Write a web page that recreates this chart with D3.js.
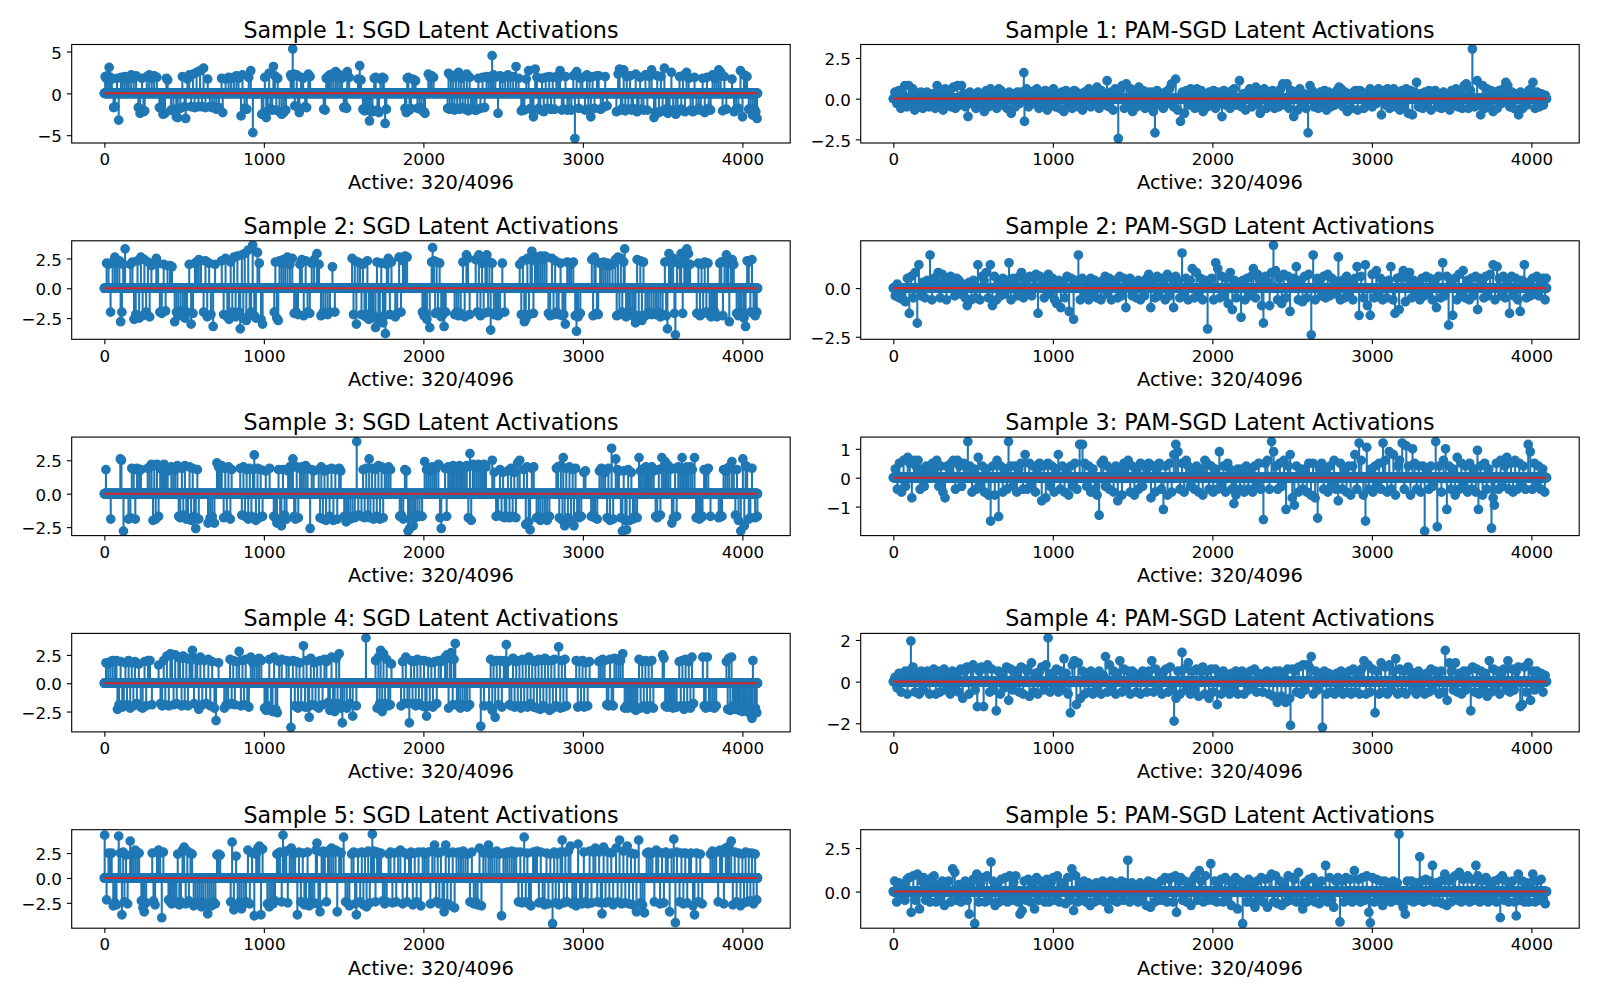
<!DOCTYPE html>
<html><head><meta charset="utf-8">
<script src="https://cdn.jsdelivr.net/npm/d3@7/dist/d3.min.js"></script>
<style>body{margin:0;background:#fff}svg{display:block;font-family:"DejaVu Sans",sans-serif}</style>
</head><body><svg id="c" width="1600" height="1000"></svg>
<script>
// ---- DATA: sparse latent vectors (flat pairs: index, value, index, value, ...) ----
const latentSize = 4096;
const activeLabel = "Active: 320/4096";
const titles = [
  "Sample 1: SGD Latent Activations","Sample 1: PAM-SGD Latent Activations",
  "Sample 2: SGD Latent Activations","Sample 2: PAM-SGD Latent Activations",
  "Sample 3: SGD Latent Activations","Sample 3: PAM-SGD Latent Activations",
  "Sample 4: SGD Latent Activations","Sample 4: PAM-SGD Latent Activations",
  "Sample 5: SGD Latent Activations","Sample 5: PAM-SGD Latent Activations"];
const xTicks = [0,1000,2000,3000,4000];
const yTicksS1Sgd=[-5,0,5], yTicksS1Pam=[-2.5,0,2.5];
const yTicksS2Sgd=[-2.5,0,2.5], yTicksS2Pam=[-2.5,0];
const yTicksS3Sgd=[-2.5,0,2.5], yTicksS3Pam=[-1,0,1];
const yTicksS4Sgd=[-2.5,0,2.5], yTicksS4Pam=[-2,0,2];
const yTicksS5Sgd=[-2.5,0,2.5], yTicksS5Pam=[0,2.5];

const s1Sgd=[5,2.0,12,1.8,20,2.1,30,3.1,38,1.9,47,1.7,58,-1.7,66,-1.6,79,1.8,90,-3.2,104,1.9,115,1.8,128,2.0,141,1.7,153,1.9,168,2.2,184,1.8,199,2.1,213,-1.7,224,-2.4,236,1.8,245,-2.2,253,-2.1,266,2.0,281,2.2,297,1.8,312,2.1,329,1.9,345,-1.7,355,-1.8,368,-2.5,380,-2.4,389,1.8,397,1.6,
418,-2.0,433,-1.9,451,-2.8,460,-2.9,476,-1.8,489,2.0,503,-1.6,510,-3.0,521,1.7,532,2.2,544,-1.6,556,2.3,566,-1.7,578,2.5,590,-1.6,600,2.7,612,-1.6,622,3.0,634,-1.7,648,1.7,661,-1.6,676,-1.7,690,-1.6,703,-1.9,718,-1.7,735,1.8,742,-2.3,760,1.7,779,1.9,795,1.8,
812,1.9,828,2.1,841,1.8,857,-2.7,866,2.2,879,-1.8,893,-1.9,905,1.9,918,2.7,931,-4.7,987,-2.5,997,-2.4,1006,1.9,1015,-2.9,1024,-2.1,1033,2.4,1041,-1.8,1052,-2.0,1060,3.2,1069,2.1,1078,-2.0,1087,1.8,1098,-2.2,1112,-2.5,1125,-2.3,1138,-2.0,1168,2.2,1175,1.9,1181,5.3,1187,2.3,1194,-1.5,
1206,2.2,1214,-1.7,1222,-2.3,1233,1.9,1246,1.8,1259,-1.6,1268,-1.7,1279,2.3,1290,2.0,1375,-1.9,1384,-2.0,1391,1.8,1402,2.0,1413,2.2,1424,1.9,1437,2.4,1451,2.6,1463,2.0,1476,2.2,1489,1.8,1501,-1.7,1510,-1.6,1519,-1.8,1523,2.6,1535,1.9,1590,1.7,
1601,3.3,1609,1.6,1621,-1.9,1631,-2.1,1640,-1.8,1652,-2.0,1662,-3.3,1670,-1.9,1681,-2.2,1692,1.8,1701,1.9,1712,-2.0,1722,-2.3,1731,1.7,1743,1.9,1752,1.8,1760,-3.6,1768,-1.9,1885,-1.8,1893,-2.3,1899,1.8,1906,1.9,1913,-2.0,1922,-1.8,1931,1.7,1942,1.6,1951,1.5,1963,-1.8,1976,-1.7,1989,-2.0,
2004,-2.2,2010,-2.4,2031,2.3,2043,1.9,2052,2.1,2064,1.9,2152,-1.8,2158,2.4,2165,-1.9,2172,2.1,2180,-1.7,2187,1.9,2195,-2.0,2204,2.2,2212,-1.8,2221,2.5,2229,-1.9,2237,1.8,2246,-1.7,2254,2.0,2263,-1.9,2272,2.3,2281,-2.1,2290,1.9,2299,-1.8,2310,-1.9,2322,-2.0,2333,-2.0,2345,1.8,2358,-1.8,2371,1.9,2384,-1.7,2396,2.0,
2409,1.8,2421,2.0,2431,4.5,2440,2.2,2451,1.9,2468,-2.4,2480,2.1,2496,1.8,2513,2.0,2530,2.2,2546,1.9,2563,2.0,2581,3.2,2597,1.8,2614,-2.1,2624,-1.9,2633,-2.0,2645,1.7,2660,2.7,2671,-1.8,2681,-2.0,2690,-2.8,2701,2.9,2712,1.9,2722,-1.8,2733,-2.0,2744,1.8,2755,-2.2,2767,1.9,2778,-1.8,2789,2.0,
2800,-1.9,2811,1.9,2822,-1.9,2834,2.0,2845,1.8,2857,2.7,2868,-2.0,2879,-1.9,2891,2.0,2903,-2.0,2915,-1.9,2928,-2.0,2940,2.1,2950,-5.4,2961,2.6,2974,-1.8,2985,1.8,2997,1.9,3013,-2.0,3026,2.2,3034,-1.9,3042,1.9,3050,-2.8,3061,2.0,3073,-1.8,3088,2.1,3099,2.1,3112,-1.9,3126,-1.7,3140,2.0,3152,-1.5,
3210,-2.2,3221,2.3,3230,2.9,3238,-2.0,3247,-1.8,3256,2.8,3266,-2.1,3275,2.0,3285,-1.9,3296,2.1,3305,-2.0,3314,-1.8,3331,2.3,3340,-2.2,3349,-2.0,3359,1.9,3368,-1.9,3380,-2.0,3392,2.2,3404,-2.0,3417,2.0,3431,2.8,3446,-2.9,3455,-2.2,3466,2.1,3477,-2.3,3489,2.0,3500,-2.1,3511,3.0,3522,-1.9,3533,-2.4,3544,-2.0,3555,2.5,3566,-2.0,3582,-2.5,3594,-2.2,
3606,2.0,3617,-1.9,3628,2.1,3640,-2.2,3650,2.5,3663,1.8,3675,-2.0,3689,-2.2,3700,1.9,3712,-2.0,3726,-1.8,3739,-2.0,3751,1.8,3764,-2.3,3778,1.9,3789,-1.8,3801,-2.0,3813,2.2,3826,1.8,3839,2.3,3852,2.8,3864,2.5,3876,-2.1,3887,2.0,3899,-1.9,3935,1.7,3948,-2.2,3961,-1.9,3975,-1.8,3988,2.7,4001,-2.8,4010,2.2,4020,2.1,4029,2.0,4040,-1.9,4052,-2.0,4064,-2.6,4075,-1.9,4084,-2.2,4092,-3.0];

const s1Pam=[10,0.4,22,-0.3,35,0.5,47,-0.6,60,0.3,72,0.8,85,-0.5,97,0.8,110,-0.4,122,0.6,134,-0.7,147,0.2,160,-0.5,172,0.4,185,-0.6,198,0.3,210,0.4,223,-0.5,236,-0.2,249,0.3,262,-0.6,274,0.8,287,-0.4,300,0.5,312,-0.7,325,0.6,338,-0.3,350,0.4,363,-0.5,376,0.7,389,-0.6,
402,0.8,414,-0.4,427,0.8,440,0.3,452,-0.5,468,-1.1,480,0.4,493,-0.3,505,0.2,518,-0.6,531,0.4,544,-0.4,557,0.3,570,-0.8,583,0.5,596,-0.5,609,0.6,622,-0.3,635,0.4,648,-0.6,661,0.6,674,0.5,687,-0.4,700,0.3,713,-0.6,726,0.4,739,-0.9,752,0.3,765,-0.5,778,0.4,791,-0.3,
804,0.4,818,1.6,822,-1.4,835,0.6,848,-0.5,861,0.4,874,-0.3,887,0.5,900,0.6,913,-0.6,926,0.3,939,-0.4,952,0.5,965,-0.7,978,0.4,991,-0.3,1004,0.6,1017,-0.5,1030,0.3,1043,-0.6,1056,0.4,1069,-0.8,1082,0.5,1095,-0.4,1108,0.3,1121,-0.6,1134,0.5,1147,0.4,1160,-0.5,1173,0.3,1186,-0.7,1199,0.4,
1212,-0.4,1225,0.6,1238,-0.5,1251,0.4,1264,-0.3,1277,0.7,1290,-0.6,1303,0.5,1316,0.3,1329,-0.4,1340,1.1,1352,-0.5,1365,0.4,1378,-0.7,1391,0.6,1410,-2.45,1422,0.5,1435,0.8,1448,-0.6,1461,0.9,1474,-0.4,1487,0.6,1500,-0.8,1513,0.4,1526,-0.5,1539,0.7,1552,-0.3,1565,0.5,1578,-0.6,1591,0.4,
1604,-0.5,1617,0.4,1630,-0.8,1640,-2.1,1653,0.5,1666,-0.4,1679,0.3,1692,-0.6,1705,0.4,1718,-0.3,1731,0.6,1744,0.9,1757,-0.5,1770,1.2,1783,-0.7,1800,-1.4,1812,0.4,1825,-0.9,1838,0.5,1851,-0.4,1864,0.6,1877,0.3,1890,-0.6,1903,0.6,1916,-0.4,1929,0.5,1942,-0.8,1955,0.3,1968,-0.5,1981,0.4,1994,-0.3,
2007,0.5,2020,-0.6,2033,0.4,2046,-0.3,2060,-1.1,2072,0.5,2085,-0.4,2098,0.3,2111,-0.6,2124,0.5,2137,0.6,2150,-0.4,2170,1.1,2182,-0.5,2195,0.3,2208,-0.7,2221,0.4,2234,0.6,2247,-0.5,2260,0.3,2273,0.7,2286,-0.4,2300,-0.9,2312,0.5,2325,0.6,2338,-0.6,2351,0.4,2364,-0.3,2377,0.5,2390,-0.6,
2403,0.4,2416,-0.5,2429,0.6,2442,0.9,2455,-0.4,2468,0.9,2481,-0.6,2494,0.5,2510,-1.1,2522,0.4,2535,-0.7,2548,0.6,2561,-0.4,2574,0.3,2587,-0.6,2600,-2.1,2612,0.8,2625,0.5,2638,-0.5,2651,0.3,2664,-0.6,2677,0.4,2690,-0.3,2703,0.5,2716,-0.7,2729,0.4,2742,-0.5,2755,0.3,2768,-0.4,2781,0.5,2794,0.7,
2807,0.6,2820,-0.5,2833,0.4,2846,-0.8,2859,0.3,2872,-0.6,2885,0.4,2898,0.5,2911,-0.7,2924,0.5,2937,0.4,2950,-0.6,2963,0.3,2976,-0.4,2989,0.6,3002,-0.5,3015,0.4,3028,-0.3,3041,0.6,3060,-1.0,3072,0.5,3085,-0.4,3098,0.6,3111,-0.6,3124,0.4,3137,0.6,3150,-0.5,3163,0.3,3176,-0.7,3189,0.5,
3202,-0.4,3215,0.6,3228,-0.9,3241,0.5,3254,-1.0,3267,0.4,3280,1.0,3293,-0.5,3306,0.3,3319,-0.6,3332,0.4,3345,-0.3,3358,0.5,3371,-0.7,3384,0.4,3397,0.5,3410,-0.5,3423,0.3,3436,-0.6,3449,0.4,3462,-0.4,3475,0.3,3488,-0.7,3501,0.5,3514,-0.4,3527,0.6,3540,-0.5,3553,0.4,3566,-0.6,3579,0.8,3592,0.9,
3605,-0.6,3618,0.5,3630,3.05,3643,-0.5,3660,1.1,3672,-0.4,3682,-1.0,3695,0.8,3708,-0.6,3721,0.6,3734,-0.5,3747,0.5,3760,-0.8,3773,0.4,3786,-0.6,3799,0.5,3812,-0.3,3825,0.6,3840,1.0,3852,0.8,3865,-0.5,3878,0.4,3891,-0.6,3904,0.3,3920,-1.0,3932,0.4,3945,-0.6,3958,0.3,3971,-0.4,3984,0.5,3997,0.6,4010,1.0,4023,-0.6,4036,0.4,4049,-0.5,4062,0.3,4075,-0.4,4088,0.2];

const s2Sgd=[14,2.1,26,2.0,39,-2.0,52,2.2,66,2.6,80,2.1,94,2.3,102,-2.8,110,-2.0,118,2.0,130,3.3,163,2.0,176,2.2,186,-2.6,197,-2.2,208,2.3,218,-2.5,229,2.6,240,-2.3,251,2.4,262,-2.0,273,2.2,284,-2.4,295,1.9,326,2.5,337,2.1,348,-2.0,360,-2.1,372,2.0,384,-1.9,396,1.9,
412,1.9,424,1.8,441,-2.8,452,-2.0,464,-2.3,478,-1.9,492,-2.1,505,-2.5,518,-2.0,532,2.0,544,-3.0,556,-2.1,568,2.1,580,2.2,592,2.4,606,2.3,622,-2.0,634,2.3,645,-2.4,657,2.1,668,-2.2,682,-3.2,694,2.0,736,2.3,748,-2.2,760,2.5,771,-2.4,782,-2.6,792,2.2,
802,-2.0,812,2.6,823,-2.4,834,2.7,844,-2.0,852,-3.4,862,2.8,871,-2.5,880,2.9,890,-2.7,902,3.2,911,-2.2,920,-2.0,930,3.6,940,-2.3,950,-2.5,960,3.0,971,2.1,982,-2.6,992,-3.0,1065,-2.0,1072,2.2,1081,-2.5,1090,-2.7,1098,2.3,1110,2.1,1122,2.4,1134,2.2,1148,2.6,1163,2.0,1178,2.5,1190,-2.1,
1202,-2.0,1214,-2.2,1226,2.0,1238,2.4,1250,-2.3,1262,2.3,1274,-2.0,1288,-2.1,1300,2.1,1315,2.4,1333,2.9,1346,2.0,1358,-2.3,1372,-2.0,1386,-2.1,1400,-2.2,1414,-2.0,1430,1.8,1445,-2.0,1553,2.5,1562,-2.2,1570,2.3,1580,-3.0,1588,2.2,
1603,2.1,1612,-2.2,1621,2.0,1631,-2.3,1640,-2.4,1649,2.3,1658,-2.6,1668,-2.1,1678,-2.5,1688,-2.3,1700,-3.3,1709,2.2,1718,-2.5,1727,-2.7,1736,2.1,1746,-2.9,1754,-2.3,1762,-3.8,1771,2.0,1780,2.5,1790,-2.2,1800,2.2,1824,-2.4,1836,-2.1,1848,2.6,1860,-2.0,1872,2.3,1885,2.7,1898,2.6,1994,-2.0,
2004,-2.3,2013,-2.1,2022,-2.6,2040,-3.3,2052,2.2,2058,3.4,2066,2.3,2074,-2.1,2083,2.2,2092,-2.0,2102,2.1,2112,-2.4,2122,-2.2,2130,-3.2,2140,-2.0,2196,-2.2,2208,-2.0,2220,-2.3,2234,-2.1,2248,2.2,2259,-2.4,2270,2.8,2280,2.5,2290,-2.2,2328,2.4,2338,-2.0,2348,2.8,2358,-2.3,2368,2.1,2378,-2.1,2389,2.2,2398,2.8,
2406,-2.0,2414,2.2,2422,-3.5,2431,2.1,2442,-2.2,2455,-2.0,2468,-2.3,2481,-2.1,2495,2.1,2510,-2.0,2604,2.0,2614,-2.2,2624,2.3,2633,-2.8,2642,-2.6,2652,2.5,2662,-2.2,2672,2.4,2680,3.1,2690,-2.1,2700,2.3,2712,2.6,2724,2.5,2736,2.7,2748,2.4,2760,2.7,2772,2.6,2784,-2.1,2795,-2.3,
2806,2.5,2816,-2.2,2826,2.3,2836,-2.0,2848,-2.2,2860,2.1,2872,-2.3,2880,-2.2,2890,-3.0,2902,2.2,2914,2.1,2926,2.0,2940,2.2,2952,-2.3,2960,-3.6,2970,-2.4,2984,-2.1,3056,2.4,3064,-2.3,3072,2.6,3080,2.3,3088,-2.1,3096,-2.2,3108,2.1,3118,2.0,3130,2.2,3142,1.9,3155,2.1,3168,1.9,3186,2.0,
3204,2.4,3212,-2.3,3220,2.6,3229,-2.2,3238,2.5,3247,-2.0,3256,2.2,3262,3.3,3271,-2.4,3280,-2.1,3290,-2.2,3300,-2.0,3312,-2.1,3322,-2.4,3330,-2.9,3340,2.4,3350,-2.3,3360,2.3,3370,-2.7,3380,2.2,3392,-2.3,3404,-2.1,3416,-2.0,3430,-2.2,3444,-2.1,3458,-2.2,3472,-2.0,3486,-2.4,3500,-2.2,3514,2.2,3522,-2.3,3530,-3.4,3540,2.9,3548,2.3,3556,2.1,3566,2.5,3574,-2.1,3580,-3.9,3590,2.2,
3608,2.0,3616,2.9,3626,-2.1,3636,2.7,3644,3.1,3652,3.3,3662,2.9,3672,2.0,3714,-2.1,3724,2.1,3734,-2.3,3744,2.0,3754,-2.1,3764,2.2,3774,-2.0,3784,2.1,3794,-2.2,3804,-2.4,3816,-2.1,3828,-2.0,3840,-2.4,3858,2.1,3868,2.2,3878,-2.3,3888,2.3,3900,2.8,3910,2.1,3918,-2.8,3926,2.2,3936,2.4,3946,2.0,3964,-2.1,3975,-2.3,3986,-2.0,3996,-2.2,4010,-2.5,4020,-3.2,4030,2.3,4040,2.2,4050,-2.0,4060,2.4,4070,-2.1,4080,-2.3,4090,-2.0];

const s2Pam=[12,-0.4,24,0.2,37,-0.5,50,-0.3,62,-0.6,75,-0.7,88,0.5,100,-1.3,112,0.6,125,-0.5,137,0.8,150,-1.8,160,1.2,173,-0.4,186,0.3,199,-0.5,212,0.4,230,1.7,242,-0.6,255,0.5,268,0.3,281,0.8,294,-0.5,307,0.7,320,0.4,333,-0.6,346,0.5,359,0.6,372,0.3,385,-0.4,398,0.5,
411,0.4,424,-0.3,437,0.2,450,-0.5,463,-0.9,476,0.3,489,-0.6,502,0.4,515,-0.5,530,1.2,543,-0.6,556,0.6,569,0.4,582,0.8,595,-0.5,608,1.2,621,-0.9,634,0.6,647,-0.6,660,0.3,673,-0.4,686,0.5,699,-0.3,712,0.4,725,1.3,738,-0.6,751,0.5,764,0.3,777,-0.4,790,0.6,
803,0.8,816,-0.5,829,0.4,842,-0.3,855,0.6,868,-0.4,881,0.5,894,0.7,907,-1.3,920,0.6,933,0.3,946,-0.5,959,0.4,972,0.7,985,-0.3,998,0.5,1011,-0.6,1024,-0.8,1037,0.4,1050,-1.0,1063,0.3,1076,-0.5,1089,0.6,1102,-1.2,1115,0.5,1130,-1.6,1143,0.4,1160,1.7,1172,-0.6,1185,0.5,1198,-0.4,
1211,0.3,1224,-0.6,1237,0.5,1250,-0.4,1263,0.4,1276,-0.5,1289,0.3,1302,-0.6,1315,0.4,1328,0.6,1341,-0.3,1354,0.5,1367,-0.6,1380,0.4,1393,0.3,1406,-0.5,1419,0.6,1432,-0.4,1445,0.5,1458,-1.0,1471,0.3,1484,0.5,1497,-0.4,1510,0.3,1523,-0.5,1536,0.4,1549,-0.6,1562,0.3,1575,-0.4,1588,0.5,
1601,0.7,1614,-1.0,1627,0.4,1640,-0.5,1653,0.6,1666,-0.4,1679,0.5,1692,0.3,1705,-0.6,1718,0.7,1731,-0.4,1744,0.5,1757,-1.0,1770,0.6,1783,0.4,1796,-0.5,1810,1.8,1822,-0.4,1835,0.5,1848,-0.6,1861,0.4,1874,1.0,1887,-0.5,1900,0.8,1913,-0.4,1926,0.5,1939,-0.6,1952,0.4,1970,-2.1,1982,0.3,1995,0.5,
2008,-0.6,2021,1.3,2034,1.0,2047,-0.5,2060,0.6,2073,-0.4,2086,0.5,2099,-0.8,2112,0.8,2125,-1.1,2138,0.4,2151,-0.5,2164,0.3,2180,-1.5,2192,0.4,2205,-0.6,2218,0.5,2231,-0.4,2244,0.6,2257,1.0,2270,-0.5,2283,0.7,2296,0.4,2309,-0.9,2320,-1.8,2333,0.6,2346,0.3,2359,-0.9,2372,0.8,2383,2.2,2396,0.9,
2409,-0.6,2422,0.5,2435,-0.8,2448,0.7,2461,-0.5,2474,0.6,2487,-1.2,2500,0.4,2513,0.5,2526,1.1,2539,-0.6,2552,0.4,2565,-0.7,2578,0.6,2591,-0.5,2604,0.7,2620,-2.4,2632,1.7,2645,-0.6,2658,0.5,2671,0.3,2684,-0.4,2697,0.6,2710,-0.5,2723,0.7,2736,-0.4,2749,0.5,2762,0.4,2775,-0.3,2790,1.6,
2803,-0.6,2816,0.4,2829,-0.5,2842,0.6,2855,-0.4,2868,0.3,2881,-0.6,2894,0.5,2907,1.1,2920,-1.4,2933,0.6,2946,-0.5,2959,1.2,2972,-0.9,2990,-1.4,3002,0.7,3015,-0.5,3028,0.9,3041,-0.4,3054,0.5,3067,-0.6,3080,0.3,3093,-0.5,3106,0.4,3119,1.1,3132,-0.6,3145,-1.3,3158,0.5,3171,-1.1,3184,0.6,3197,0.9,
3210,-0.7,3223,0.5,3236,0.8,3249,-0.5,3262,0.4,3275,-0.4,3288,0.3,3301,-0.6,3314,0.5,3327,-0.4,3340,0.6,3353,-0.3,3366,0.5,3379,-0.6,3392,0.4,3405,-1.0,3418,0.6,3431,-0.5,3444,1.3,3457,-0.4,3470,0.6,3481,-1.9,3494,0.4,3507,-1.4,3520,0.5,3533,-0.6,3546,0.7,3559,-0.4,3572,0.9,3585,-0.5,3598,0.4,
3611,-0.6,3624,0.5,3637,-0.4,3650,0.6,3663,-1.1,3676,0.5,3689,0.3,3702,-0.5,3715,0.6,3728,-0.4,3741,0.7,3760,1.2,3772,-0.6,3785,1.1,3798,0.5,3811,-0.4,3824,0.6,3837,-0.5,3850,0.4,3863,-1.3,3876,0.6,3889,-0.4,3902,0.5,3915,-0.6,3930,-1.2,3943,0.4,3956,1.2,3969,-0.5,3982,0.3,3995,-0.4,4008,0.5,4021,-0.3,4034,0.6,4047,-0.4,4060,0.3,4073,0.5,4086,-0.6,4093,0.5];

const s3Sgd=[10,1.8,40,-1.9,100,2.6,107,2.5,120,-2.8,151,-1.9,163,-1.8,172,1.9,184,1.8,194,-1.9,205,1.9,218,1.7,229,1.8,272,1.9,284,2.0,296,2.2,305,-2.0,313,2.1,322,-1.9,330,2.2,340,-1.7,350,1.9,362,1.8,374,2.2,386,1.9,397,1.7,
420,2.0,432,1.9,444,1.8,458,2.1,466,-1.7,476,-1.8,486,1.9,495,-1.6,505,2.1,514,-1.9,524,-1.8,534,2.0,544,-2.0,554,1.9,563,-1.7,573,-2.6,583,1.8,592,-1.9,650,-2.2,663,-1.8,676,-1.7,690,-2.2,706,2.3,716,2.0,726,1.9,736,2.1,748,-1.8,758,1.9,768,-1.6,778,2.0,790,-1.9,798,1.8,
852,1.9,862,-1.6,872,2.0,882,-1.7,892,1.8,902,-1.9,912,1.9,922,-1.7,932,1.8,940,2.9,950,-2.0,960,1.9,970,-1.8,980,1.8,992,-1.7,1012,1.7,1036,1.9,1062,-1.7,1072,-1.8,1082,-2.2,1092,1.8,1102,-2.0,1110,-2.4,1120,1.8,1130,-1.6,1142,-1.9,1152,1.7,1162,2.0,1172,1.9,1182,2.6,1190,-1.7,1198,-1.9,
1206,2.0,1216,-1.8,1226,1.9,1238,2.0,1250,1.8,1262,2.1,1274,1.9,1290,-2.6,1300,1.8,1312,1.7,1344,1.8,1352,-1.8,1360,2.0,1370,-1.9,1380,1.7,1390,-2.0,1400,1.8,1412,-1.7,1424,1.9,1436,-2.0,1448,1.8,1460,-1.9,1472,1.9,1482,1.7,1504,-1.7,1516,-2.1,1528,-1.8,1542,-1.9,1556,-1.7,1570,-1.8,1582,3.9,1592,-1.6,
1612,-1.7,1622,1.8,1632,-1.8,1642,1.9,1652,-1.6,1660,2.6,1668,-1.8,1678,1.9,1688,-1.9,1698,1.8,1708,-1.7,1718,2.1,1728,-1.9,1738,2.0,1748,-1.8,1758,1.8,1770,1.9,1782,2.0,1794,1.8,1852,-1.7,1862,-1.6,1874,-1.9,1884,1.8,1894,1.7,1904,-2.8,1914,-2.6,1924,-1.7,1936,-2.4,1948,-1.8,1962,-1.6,1976,-1.7,1992,-1.7,
2008,2.4,2020,1.8,2032,1.9,2044,1.7,2056,2.0,2068,1.8,2080,1.9,2094,2.2,2104,-1.8,2112,-2.6,2136,1.9,2146,-1.7,2156,2.0,2166,1.8,2176,1.9,2186,2.1,2196,1.8,2206,2.0,2216,1.9,2226,2.1,2236,1.8,2248,2.0,2260,1.9,2272,2.1,2282,-1.8,2292,3.0,2300,-2.0,2310,2.2,2320,2.0,2332,2.1,2344,2.2,2356,2.0,2368,2.1,2380,2.2,2392,2.0,
2432,2.5,2444,1.6,2456,-1.7,2468,-1.6,2480,1.8,2490,-1.7,2500,1.6,2510,-1.8,2520,-1.7,2530,1.7,2540,-1.8,2550,1.9,2560,-1.7,2570,1.6,2580,-1.8,2591,2.3,2604,2.5,2630,1.8,2642,-2.3,2650,2.0,2660,-2.1,2669,-2.7,2680,1.9,2692,2.0,2710,-1.8,2722,-1.7,2734,-2.0,2748,-1.9,2762,-1.8,2776,-2.0,2790,-1.7,
2834,1.9,2844,2.0,2852,-1.8,2862,2.1,2872,-2.0,2877,2.7,2886,-2.4,2896,1.9,2906,-1.8,2916,2.0,2926,-2.1,2936,1.8,2944,-2.4,2954,1.9,2964,-1.7,2976,-1.8,2990,-1.7,3006,1.6,3016,1.7,3052,-1.7,3064,-1.6,3076,-1.8,3090,-1.9,3104,1.7,3116,1.9,3128,1.8,3140,1.6,3152,-1.8,3160,1.9,3170,-2.0,3180,3.4,3190,-1.9,
3206,2.6,3216,1.8,3226,1.7,3238,-1.8,3248,-2.8,3256,1.7,3266,-2.0,3274,-2.7,3284,1.8,3294,-2.0,3304,1.6,3314,-1.9,3326,-1.7,3340,-1.8,3352,2.7,3362,1.7,3372,1.8,3384,1.9,3396,2.0,3408,1.8,3420,1.9,3432,2.0,3444,1.7,3456,-1.7,3466,-1.8,3476,1.8,3486,-1.6,3495,2.7,3506,2.0,3516,2.4,3526,1.9,3536,2.1,3548,1.8,3558,-2.2,3568,-1.8,3578,1.9,3588,-1.7,3598,2.0,
3610,1.8,3622,2.7,3632,1.9,3642,1.8,3652,2.0,3662,1.9,3674,2.0,3686,1.8,3700,2.7,3710,-1.8,3720,-1.7,3730,-1.9,3740,-1.8,3750,-1.7,3760,1.8,3772,1.7,3786,1.9,3800,-1.7,3852,-1.8,3862,-1.6,3872,-1.7,3882,1.8,3894,1.7,3906,1.9,3918,2.0,3934,2.4,3946,1.8,3956,-1.6,3966,1.8,3976,-2.0,3990,-2.8,4003,2.6,4012,-2.4,4020,2.1,4030,2.0,4040,-1.9,4050,-1.8,4060,1.9,4080,-1.8,4094,-1.7];

const s3Pam=[12,0.3,25,-0.4,38,0.5,51,-0.5,64,0.6,77,-0.3,90,0.7,103,0.5,116,-0.7,129,0.6,142,0.4,155,0.6,168,-0.4,181,0.3,194,-0.3,207,0.4,220,0.2,233,0.4,246,0.5,259,0.3,272,0.6,285,-0.3,298,0.4,311,-0.5,324,-0.7,337,0.4,350,0.3,363,0.5,376,0.6,389,-0.4,
402,0.6,415,0.4,428,-0.3,441,0.5,454,0.4,467,1.25,480,0.4,493,-0.5,506,0.3,519,-0.4,532,0.7,545,-0.3,558,0.4,571,-0.5,584,0.3,597,-0.6,610,-1.5,623,0.4,636,-0.6,650,0.6,660,-1.35,673,0.4,686,-0.5,699,0.3,712,-0.4,722,1.25,735,0.4,748,-0.3,761,0.4,774,-0.5,787,0.3,
800,0.5,813,-0.4,826,0.8,839,-0.4,852,0.5,865,-0.3,878,0.4,891,-0.5,904,0.3,917,0.5,930,-0.8,943,0.4,956,-0.7,969,0.5,982,-0.3,995,0.4,1008,-0.5,1021,0.3,1034,0.8,1047,-0.4,1060,0.4,1073,-0.5,1086,0.3,1099,-0.6,1112,0.4,1125,-0.3,1138,0.5,1151,-0.4,1168,1.15,1186,1.15,1199,0.5,
1212,-0.3,1225,0.4,1238,-0.5,1251,0.3,1264,-0.4,1277,-0.6,1290,-1.3,1303,0.5,1316,0.6,1329,-0.3,1342,0.4,1355,-0.4,1368,0.3,1381,-0.5,1394,0.4,1407,-0.8,1420,0.3,1433,-0.6,1446,0.5,1459,0.4,1472,0.6,1485,-0.5,1498,0.4,1511,-0.6,1524,0.3,1537,-0.4,1550,0.5,1563,-0.3,1576,0.4,1589,0.3,
1602,0.5,1615,-0.7,1628,0.4,1641,-0.5,1654,0.3,1667,0.5,1680,-0.4,1693,-1.1,1706,0.4,1719,-0.6,1732,0.5,1745,-0.5,1758,0.8,1771,1.15,1784,0.9,1797,-0.4,1810,0.5,1823,-0.5,1836,0.6,1849,0.4,1862,-0.3,1875,0.3,1888,-0.4,1901,0.4,1914,-0.5,1927,0.3,1940,-0.6,1953,0.6,1966,0.5,1979,-0.4,1992,0.4,
2005,-0.5,2018,0.3,2031,-0.4,2044,0.9,2057,-0.3,2070,0.4,2083,-0.5,2096,0.5,2109,0.3,2122,-0.4,2135,-0.9,2148,-0.6,2161,0.3,2174,-0.4,2187,0.3,2200,-0.5,2213,0.4,2226,-0.4,2239,0.3,2252,-0.5,2265,0.4,2278,-0.3,2291,0.5,2304,-0.4,2320,-1.45,2332,0.5,2345,0.6,2358,-0.4,2371,1.25,2384,0.9,2397,0.4,
2410,-0.4,2423,0.5,2436,-0.3,2449,0.6,2462,-1.1,2475,0.4,2488,0.8,2501,-0.7,2514,-0.95,2527,0.4,2540,-0.5,2553,0.3,2566,-0.4,2579,0.3,2592,-0.5,2605,0.5,2618,-0.6,2631,0.5,2644,-0.7,2660,-1.4,2672,0.3,2685,0.5,2698,-0.4,2711,0.3,2724,-0.5,2737,0.4,2750,-0.3,2763,0.6,2776,-0.4,2789,-0.8,
2802,0.5,2815,-0.4,2828,0.3,2841,-0.5,2854,0.4,2867,-0.6,2880,0.4,2893,0.8,2906,-0.4,2920,1.2,2933,0.6,2946,-0.6,2960,-1.5,2968,1.05,2981,-0.4,2994,0.3,3007,-0.5,3020,0.4,3033,-0.3,3046,0.5,3059,-0.4,3070,1.2,3083,0.6,3096,-0.5,3109,0.9,3122,-0.4,3135,0.8,3148,-0.6,3161,0.4,3174,0.6,3190,1.2,
3203,-0.4,3216,1.1,3229,0.4,3242,-0.6,3255,1.0,3268,0.5,3281,-0.4,3294,0.4,3307,-0.5,3320,0.4,3331,-1.85,3344,0.3,3357,-0.4,3370,0.4,3383,-0.3,3400,1.25,3410,-1.7,3423,0.4,3436,-0.5,3449,0.6,3462,1.0,3470,-1.1,3483,0.4,3496,-0.4,3509,0.3,3522,-0.6,3535,0.7,3548,-0.4,3561,0.5,3574,-0.3,3587,0.4,
3600,-0.5,3613,0.5,3626,-0.4,3639,0.3,3652,-0.5,3662,0.95,3668,-1.1,3681,0.4,3694,-0.6,3707,0.5,3720,-0.4,3733,0.3,3750,-1.75,3760,-0.7,3768,-0.95,3781,0.5,3794,-0.4,3807,0.6,3820,-0.3,3833,0.4,3846,0.7,3859,-0.4,3872,0.5,3885,-0.5,3898,0.6,3911,-0.4,3924,0.5,3937,-0.3,3950,0.4,3963,-0.4,3980,1.15,3993,0.9,4006,-0.4,4019,0.5,4032,-0.3,4045,0.4,4058,-0.4,4071,0.3,4084,-0.5];

const s4Sgd=[10,1.8,24,1.7,38,1.9,52,2.0,66,1.9,76,2.0,82,-2.3,92,-1.9,102,1.9,112,-2.1,122,-2.0,132,1.8,142,-1.9,152,2.0,162,-2.2,172,1.8,182,-2.0,192,1.9,204,-1.8,216,1.7,228,-2.1,240,-2.2,252,1.9,262,-2.0,274,2.0,286,2.0,298,-1.9,340,1.6,352,-1.8,362,-2.0,372,2.0,382,-1.9,392,2.4,
404,-2.0,414,2.6,424,2.5,434,-1.9,444,2.5,454,-1.8,464,2.3,474,2.2,484,-2.0,494,2.4,504,-1.9,514,2.2,524,-2.0,534,2.1,544,2.2,552,2.9,562,-1.8,572,2.2,582,2.0,592,-2.3,602,2.3,614,-1.9,626,2.0,638,-1.8,652,2.1,664,-2.0,676,1.9,690,-2.2,700,-3.3,716,1.8,752,-2.2,764,-1.9,776,-1.9,788,2.1,798,-1.8,
808,2.0,818,-1.9,830,1.9,845,2.8,856,-2.0,866,2.0,876,-1.9,886,2.1,896,-2.0,906,-2.1,918,2.3,930,1.8,942,2.0,956,1.9,970,2.2,984,2.0,1004,-2.2,1014,-2.4,1024,-2.0,1034,2.1,1044,-2.3,1054,-2.5,1064,2.3,1074,-2.3,1084,-2.6,1096,1.9,1112,2.1,1142,2.0,1156,1.9,1170,-3.9,1182,2.0,1194,-2.0,
1204,1.9,1214,-2.2,1224,1.8,1234,-2.0,1248,3.3,1258,-2.1,1268,2.0,1276,-2.1,1284,-3.0,1294,2.2,1304,-1.9,1314,1.8,1324,-2.0,1334,1.9,1344,-2.2,1356,2.0,1368,-1.9,1380,2.1,1392,1.9,1404,-1.7,1414,-2.4,1424,2.3,1434,-2.0,1444,-2.5,1454,2.2,1462,-1.8,1472,2.6,1482,-2.2,1492,-3.5,1504,-2.0,1520,-2.2,1540,-1.8,1557,-2.9,1580,-2.0,
1640,4.0,1700,2.0,1710,-2.2,1718,2.3,1726,-1.8,1732,2.9,1742,-2.5,1750,2.6,1760,-1.8,1770,2.1,1780,-2.0,1792,-1.9,1800,1.7,1860,-2.0,1870,1.9,1880,-1.8,1890,2.3,1900,-1.8,1912,-3.5,1922,2.0,1932,-1.8,1942,1.9,1952,-2.0,1962,2.1,1972,-1.8,1982,2.0,1992,-2.0,
2004,2.0,2012,-2.1,2020,-2.9,2030,1.9,2040,-2.0,2050,1.8,2060,-2.1,2072,1.9,2084,-1.8,2096,2.0,2110,1.9,2136,2.3,2149,2.5,2158,-2.2,2166,2.2,2175,2.7,2184,-1.9,2192,2.1,2200,3.5,2210,-1.9,2220,-2.0,2232,-2.2,2246,-1.9,2260,-2.0,2274,-2.1,2290,-1.9,2360,-3.8,2380,-2.0,
2412,-2.0,2422,2.1,2432,-2.4,2440,1.9,2450,-3.0,2460,2.0,2470,-1.9,2480,2.0,2492,-2.1,2504,1.9,2512,2.0,2520,3.4,2530,1.9,2540,-1.9,2552,-2.0,2562,2.2,2572,-2.1,2582,1.9,2592,-2.0,2602,2.0,2612,-2.2,2622,2.1,2632,-2.0,2642,2.0,2652,-2.1,2662,2.3,2672,-1.8,2682,2.0,2692,-2.1,2702,1.9,2712,-2.2,2722,2.1,2732,-2.3,2742,2.0,2752,-2.0,2762,2.2,2772,-2.2,2782,2.0,2792,-2.4,
2802,2.0,2812,-2.2,2822,2.1,2832,-2.0,2848,3.2,2858,-2.2,2868,2.0,2878,-2.1,2888,2.1,2898,-2.0,2958,2.0,2968,-2.1,2978,1.9,2988,-2.0,2998,2.0,3008,-2.1,3018,1.8,3030,-2.0,3042,1.9,3100,1.9,3112,2.0,3124,2.1,3136,2.0,3150,-1.9,3160,-2.0,3170,2.1,3180,-1.9,3190,-2.0,3198,2.2,
3210,2.1,3224,2.0,3236,2.0,3250,2.6,3262,-2.2,3272,-2.0,3282,-2.2,3292,-2.0,3302,-2.1,3312,-2.2,3322,-2.0,3332,-2.4,3342,-2.2,3352,2.1,3362,-2.2,3372,1.9,3382,-2.0,3392,2.0,3402,-2.3,3412,1.9,3422,-2.0,3432,2.0,3442,-2.2,3500,2.5,3508,2.2,3516,-2.0,3526,-2.1,3536,-1.9,3546,-2.1,3556,-2.0,3566,-2.2,3576,-2.0,3588,-2.1,
3604,1.9,3614,-2.0,3624,2.0,3634,-2.3,3644,2.1,3654,-2.0,3664,1.9,3674,-2.2,3684,2.3,3694,-1.8,3752,2.3,3760,-2.0,3770,-2.2,3780,2.3,3790,-2.0,3800,-2.1,3812,-2.0,3824,-2.2,3836,-2.0,3900,1.9,3908,-2.3,3916,2.2,3924,-2.4,3932,2.3,3940,-2.0,3948,-2.2,3956,-2.3,3964,-2.0,3972,-2.3,3980,-2.4,3990,-2.2,4000,-2.5,4010,-2.2,4020,-2.0,4030,-2.3,4042,-2.6,4050,-2.2,4060,-3.1,4066,2.0,4074,-2.4,4082,-2.2,4090,-2.6];

const s4Pam=[10,0.2,23,-0.3,36,0.4,49,-0.5,62,0.3,75,0.5,88,-0.6,100,0.5,110,1.95,123,0.7,136,-0.5,149,0.4,162,-0.6,175,0.5,188,-0.4,201,0.3,214,0.5,227,-0.6,240,0.4,253,0.6,266,-0.6,279,0.5,292,-0.5,305,0.3,318,0.6,331,-0.4,344,0.4,357,-0.6,370,0.5,383,-0.3,396,0.4,
409,-0.5,422,0.6,435,-0.8,448,0.5,461,0.7,474,-0.6,487,0.6,500,0.8,513,-0.4,526,-1.2,539,0.5,552,0.7,566,-1.2,578,0.6,591,0.8,604,-0.5,617,0.6,630,-0.4,645,-1.4,658,0.5,671,-0.6,684,0.4,697,-0.3,710,0.7,723,-0.9,736,0.6,749,-0.4,762,0.5,775,0.3,788,-0.5,
801,0.7,814,-0.6,827,0.6,840,0.5,853,-0.7,866,0.9,879,-0.5,892,0.4,905,-0.6,918,0.5,931,0.7,944,-0.4,957,0.8,970,2.1,983,-0.5,996,0.4,1009,-0.3,1022,0.6,1035,-0.5,1048,0.5,1061,-0.4,1070,1.1,1083,0.4,1096,-0.6,1110,-1.5,1122,0.8,1135,1.0,1148,-1.1,1160,0.9,1173,-0.8,1186,0.5,1199,-0.6,
1212,0.4,1225,-0.5,1238,0.5,1251,-0.6,1264,0.4,1277,-0.4,1290,0.5,1303,-0.6,1316,0.3,1330,1.2,1342,-0.5,1355,0.8,1368,-0.4,1381,0.5,1394,-0.6,1407,0.4,1420,1.0,1433,-0.5,1446,0.6,1459,-0.4,1472,0.5,1485,-0.6,1498,0.5,1511,0.4,1524,-0.5,1537,0.3,1550,-0.6,1563,0.5,1576,0.4,1589,-0.5,
1602,0.5,1620,1.0,1632,-0.5,1645,0.6,1658,-0.4,1671,0.3,1684,-0.6,1697,0.5,1710,0.6,1723,-0.5,1736,0.7,1749,-0.4,1760,-1.9,1772,-0.8,1785,0.5,1798,-0.6,1810,1.4,1823,0.6,1836,-0.4,1849,0.9,1862,-0.6,1875,0.5,1888,-0.4,1901,0.6,1914,-0.7,1927,0.5,1940,0.7,1953,-0.6,1966,0.5,1979,-0.8,1992,0.6,
2005,-0.5,2018,0.6,2030,-1.1,2043,0.4,2056,-0.6,2069,0.5,2082,-0.4,2095,0.3,2108,-0.6,2121,0.4,2134,-0.4,2147,0.5,2160,-0.6,2173,0.4,2186,0.5,2199,-0.6,2212,0.4,2225,-0.4,2238,0.5,2251,-0.3,2264,0.6,2277,-0.5,2290,0.4,2303,0.3,2316,-0.5,2329,0.4,2342,0.5,2355,-0.6,2368,0.4,2381,-0.7,2394,0.5,
2407,-1.0,2420,0.5,2433,-0.7,2446,0.4,2459,-1.0,2472,0.6,2485,-0.8,2490,-2.1,2503,0.6,2516,0.5,2529,-0.5,2542,0.7,2555,-0.6,2568,0.8,2581,-0.4,2594,0.8,2607,0.7,2620,1.2,2633,-0.6,2646,0.5,2659,-0.4,2672,0.4,2690,-2.2,2702,0.5,2715,-0.6,2728,0.4,2741,-0.5,2754,0.3,2767,-0.6,2780,0.4,2793,-0.4,
2806,0.5,2819,-0.6,2832,0.4,2845,-0.5,2858,0.5,2871,-0.6,2884,0.6,2897,-0.5,2910,0.4,2923,-0.6,2936,0.6,2950,1.0,2963,-0.6,2976,0.8,2989,-0.5,3002,0.6,3020,-1.5,3032,0.5,3045,-0.6,3058,0.9,3071,-0.5,3084,0.7,3097,-0.6,3110,0.8,3123,-0.4,3136,0.5,3150,1.1,3162,-0.6,3175,0.6,3188,-0.5,
3201,0.5,3214,-0.6,3227,0.7,3240,0.5,3253,-0.4,3266,0.4,3279,-0.6,3292,0.5,3305,-0.4,3318,0.3,3331,-0.6,3344,0.4,3357,-0.5,3370,0.6,3383,-0.4,3396,0.5,3409,0.4,3422,-0.6,3435,0.5,3448,-0.5,3460,1.5,3472,-0.9,3485,0.9,3498,0.5,3511,-0.4,3524,0.9,3537,-0.5,3550,0.4,3563,-0.6,3576,0.5,3589,-0.4,
3602,0.5,3620,-1.4,3632,0.7,3645,-0.5,3658,0.6,3671,-0.6,3684,0.5,3697,-0.4,3710,0.4,3723,-0.7,3736,1.0,3749,-0.5,3762,0.6,3775,-0.4,3788,0.5,3801,-0.6,3814,0.4,3827,0.6,3840,-0.4,3853,1.0,3866,-0.5,3879,0.6,3892,-0.4,3905,0.5,3918,0.7,3930,-1.2,3943,-1.1,3956,0.7,3969,-0.5,3982,0.9,3995,-0.9,4008,0.5,4021,-0.4,4034,0.5,4047,-0.3,4060,0.4,4073,-0.5,4086,0.3];

const s5Sgd=[2,4.3,14,-2.2,26,2.5,36,2.4,46,2.5,56,-2.8,66,-2.5,76,-2.7,90,4.2,100,2.5,110,-3.7,118,2.6,126,-2.4,136,2.3,146,-2.6,162,3.7,172,2.3,182,2.6,194,2.8,206,2.4,218,2.5,232,-2.3,242,-3.0,250,-3.4,262,-2.5,300,2.5,308,-2.3,318,-2.7,330,2.6,340,2.8,350,2.5,360,-4.0,370,2.6,
402,-2.2,412,-2.4,422,-2.6,432,-2.3,442,-2.5,452,-2.4,460,2.4,470,-2.7,480,-2.4,490,2.8,500,3.1,510,-2.6,520,2.7,530,-2.3,540,2.5,550,2.4,560,-2.8,572,-2.5,584,-2.6,596,-2.4,608,-2.9,620,-2.5,634,-2.7,648,-3.6,660,-2.5,672,-2.8,684,-2.4,696,-2.6,706,2.3,716,2.4,726,2.3,792,-2.4,
801,3.6,812,-3.2,826,2.2,836,-2.7,848,-2.4,860,-3.1,874,-2.6,888,-2.4,900,2.8,912,-2.6,926,2.5,940,-3.8,952,2.4,962,3.0,972,3.2,982,-3.7,992,2.9,1022,-2.6,1034,-2.9,1046,-2.4,1058,-2.6,1070,-2.3,1082,2.4,1092,2.5,1102,2.6,1112,-2.4,1120,4.3,1130,2.6,1140,2.7,1150,-2.5,1162,2.8,1172,3.0,1184,2.4,1196,2.5,
1210,-3.7,1220,2.6,1232,-2.4,1244,2.5,1254,-2.7,1264,-2.5,1274,2.6,1284,-2.8,1294,-2.4,1304,-2.6,1316,-2.5,1326,2.8,1333,3.5,1342,-2.6,1352,-3.4,1362,2.6,1372,2.7,1382,2.5,1392,-2.4,1402,2.6,1412,2.8,1424,3.0,1436,2.6,1450,2.8,1460,-3.4,1472,2.6,1484,2.5,1500,4.1,1512,-2.4,1524,-2.5,1536,-2.8,1550,2.4,1562,2.6,1572,-2.6,1580,-3.7,1590,2.5,
1604,-2.4,1614,2.6,1624,-2.7,1634,2.5,1644,-2.9,1654,2.7,1664,-2.5,1672,2.6,1680,4.4,1690,2.7,1700,-2.4,1710,2.6,1722,2.3,1734,2.5,1746,-2.3,1758,-2.6,1770,-2.4,1782,2.4,1794,2.6,1806,-2.5,1818,2.5,1830,-2.4,1842,2.6,1856,2.8,1870,-2.6,1884,2.5,1898,-2.4,1910,2.3,1922,2.6,1934,-2.7,1946,2.5,1958,-2.4,1970,2.6,1984,-2.8,1996,2.6,
2008,2.4,2020,2.5,2032,2.6,2044,-2.6,2056,2.7,2070,3.3,2080,-2.4,2090,2.5,2100,-2.6,2110,2.6,2120,-2.5,2130,-3.4,2140,3.3,2150,-2.6,2160,2.5,2172,-2.8,2184,2.6,2196,-3.0,2208,2.5,2222,2.6,2236,2.4,2250,2.7,2264,2.5,2278,2.4,2292,-2.4,2304,2.6,2316,-2.6,2328,-2.4,2340,-2.7,2352,3.0,2364,-2.8,2376,2.5,2390,2.6,
2408,3.3,2420,2.4,2432,2.6,2446,2.5,2460,2.7,2476,2.4,2490,-3.8,2502,2.5,2514,2.4,2526,2.6,2540,2.5,2554,2.7,2568,2.4,2582,2.6,2596,-2.4,2608,2.6,2618,-2.5,2632,4.1,2642,-2.4,2652,2.5,2662,-2.6,2674,-2.8,2688,2.6,2700,2.5,2712,2.7,2724,-2.5,2736,2.6,2748,-2.4,2760,-2.7,2772,2.5,2784,-2.6,2796,2.4,
2810,-4.6,2820,2.6,2830,-2.5,2840,2.4,2850,-2.7,2860,2.6,2870,3.8,2880,-2.5,2890,2.6,2900,-2.4,2910,2.7,2922,3.2,2934,-2.6,2946,-2.4,2958,-2.8,2970,3.4,2982,-2.5,2994,-2.6,3006,2.6,3018,-2.4,3030,-2.6,3042,2.7,3054,-2.5,3066,2.6,3078,3.0,3090,-2.4,3102,2.6,3112,-2.5,3120,-3.6,3130,3.1,3142,-2.5,3154,2.6,3166,-2.4,3178,2.5,3190,-2.7,
3208,3.0,3218,-2.4,3230,3.8,3242,-2.6,3254,2.7,3266,-2.5,3278,3.2,3290,-2.6,3302,2.5,3314,-2.7,3326,2.4,3336,-3.4,3350,3.8,3362,-2.5,3374,-2.7,3386,-3.5,3400,2.5,3412,2.6,3424,2.4,3436,2.5,3448,-2.4,3460,2.8,3472,2.6,3484,-2.6,3496,2.5,3508,-2.5,3520,2.6,3532,2.4,3544,-3.4,3556,2.5,3570,3.9,3580,-4.5,3590,2.6,
3606,-2.4,3618,2.5,3630,-2.6,3642,2.5,3654,-2.5,3666,2.4,3678,2.5,3690,-2.8,3700,-3.7,3712,2.5,3724,-2.4,3736,2.4,3748,-2.6,3800,2.4,3812,2.7,3824,2.5,3836,2.6,3848,-2.4,3860,2.8,3872,2.5,3884,-2.6,3896,3.0,3906,2.7,3916,3.2,3930,3.7,3940,-2.7,3952,2.6,3964,-2.4,3976,2.5,3988,-2.8,4000,2.4,4010,-2.5,4020,2.6,4030,-2.4,4040,2.5,4050,-2.3,4060,2.5,4070,-2.6,4080,2.4,4090,-2.2];

const s5Pam=[8,0.6,21,-0.6,34,0.5,47,-0.3,60,0.4,73,-0.5,86,0.7,99,0.8,112,-1.2,125,0.9,138,-0.5,151,1.0,164,-1.0,177,0.6,190,0.8,203,-0.5,216,0.5,229,-0.6,242,0.8,255,0.9,268,-0.6,281,0.4,294,-0.5,307,0.6,320,-0.8,333,0.5,346,0.6,359,-0.6,372,1.3,385,1.1,398,-0.5,
411,0.4,424,-0.6,437,0.3,450,0.6,463,-0.5,476,-1.3,489,0.5,500,0.7,510,-1.85,523,1.0,536,-0.6,549,0.5,562,0.8,575,-0.6,588,0.9,601,-0.5,612,1.7,625,0.6,638,-0.8,651,0.5,664,-0.6,677,0.7,690,-0.5,703,0.8,716,-0.6,729,0.9,742,-0.5,755,0.5,768,0.9,781,-0.6,794,-1.3,
807,-1.1,820,0.6,833,-0.5,846,0.7,859,-0.6,872,0.5,885,-1.0,898,0.8,911,-0.5,924,0.6,937,0.4,950,-0.6,963,0.7,976,-0.6,989,0.5,1002,0.8,1015,-0.5,1028,0.9,1041,-0.6,1054,0.5,1067,0.4,1080,-0.7,1093,0.8,1106,-0.5,1119,1.3,1130,-1.1,1143,0.9,1156,-0.6,1169,0.5,1182,-0.5,1195,0.6,
1208,-0.6,1221,0.5,1234,-0.8,1247,0.4,1260,-0.6,1273,0.5,1286,-0.5,1299,0.4,1312,0.6,1325,-0.6,1338,0.5,1351,-1.0,1364,0.6,1377,-0.5,1390,0.5,1403,-0.6,1416,0.4,1429,0.6,1442,-0.5,1455,0.5,1470,1.8,1482,-0.6,1495,0.5,1508,-0.4,1521,0.3,1534,-0.6,1547,0.5,1560,-0.5,1573,0.4,1586,-0.8,
1599,0.6,1612,-0.9,1625,0.5,1638,-0.6,1651,0.4,1664,-0.5,1677,0.6,1690,-0.5,1703,0.8,1716,-0.6,1729,0.7,1742,0.8,1755,-0.6,1768,0.9,1775,-1.2,1788,0.6,1801,0.8,1814,-0.5,1827,0.6,1840,-0.6,1853,0.5,1866,-0.8,1879,0.7,1892,0.9,1905,-0.5,1918,1.2,1931,0.6,1944,-0.6,1957,0.9,1970,-0.5,1990,1.6,
2002,-0.5,2015,0.6,2028,-0.6,2041,0.5,2054,0.7,2067,-0.6,2080,0.8,2093,-0.5,2106,0.6,2119,-0.8,2132,0.5,2145,0.8,2158,-1.0,2171,0.6,2190,-1.85,2202,0.5,2215,-0.6,2228,0.7,2241,-0.6,2254,0.5,2267,-0.9,2280,0.6,2293,-0.5,2306,0.8,2319,-0.6,2332,0.7,2345,-0.9,2358,0.8,2371,1.0,2384,-0.6,2397,0.9,
2410,-0.7,2423,0.6,2436,-0.8,2449,0.5,2462,-0.6,2475,0.9,2488,-0.5,2501,0.8,2514,0.7,2527,-0.6,2540,1.1,2553,-0.6,2566,-1.0,2579,0.5,2592,-0.6,2605,0.7,2618,-0.5,2631,0.8,2644,-0.6,2657,0.5,2670,-0.7,2683,0.6,2696,-0.5,2710,1.5,2722,-0.6,2735,0.8,2748,-0.5,2761,-0.9,2774,0.6,2787,0.8,
2800,-1.75,2812,0.6,2825,-0.6,2838,0.8,2851,-0.5,2864,0.7,2877,-0.6,2890,1.2,2903,-0.5,2916,0.7,2929,-0.6,2942,0.8,2955,-0.5,2968,0.9,2981,-1.2,2990,-1.8,3003,0.8,3016,-0.6,3029,0.7,3042,-0.5,3055,0.6,3068,-0.8,3081,0.6,3094,-0.5,3107,0.5,3120,-0.6,3133,0.6,3146,-0.5,3159,0.5,3170,3.3,3183,-0.6,3196,-0.9,
3209,-1.3,3222,0.6,3235,-0.5,3248,0.6,3261,-0.6,3274,0.5,3287,-0.5,3300,2.0,3312,0.6,3325,-0.6,3338,0.7,3351,-0.5,3364,0.6,3380,1.5,3392,-0.6,3405,0.5,3418,-0.6,3431,0.6,3444,-0.7,3457,1.0,3470,-0.8,3483,0.6,3496,-0.6,3509,0.8,3522,0.9,3535,-0.5,3548,1.1,3561,-0.6,3574,0.7,3587,-0.5,
3600,0.9,3613,-0.6,3626,0.7,3639,-0.5,3652,1.5,3664,0.9,3677,-0.6,3690,0.6,3703,-0.5,3716,0.8,3729,-0.6,3742,0.5,3755,-0.5,3768,0.6,3781,-0.6,3794,0.7,3805,-1.5,3818,0.9,3831,-0.5,3844,0.6,3857,-0.6,3870,0.5,3883,0.6,3896,-0.6,3905,-1.4,3918,1.0,3931,-0.5,3944,0.6,3957,-0.6,3970,0.5,3983,-0.6,3996,0.5,4009,1.0,4022,-0.6,4035,0.6,4048,-0.5,4061,0.7,4074,-0.4,4087,-0.7];

// ---- panel table built from the arrays above ----
const panels = [
  {title:titles[0],data:s1Sgd,ticks:yTicksS1Sgd},{title:titles[1],data:s1Pam,ticks:yTicksS1Pam},
  {title:titles[2],data:s2Sgd,ticks:yTicksS2Sgd},{title:titles[3],data:s2Pam,ticks:yTicksS2Pam},
  {title:titles[4],data:s3Sgd,ticks:yTicksS3Sgd},{title:titles[5],data:s3Pam,ticks:yTicksS3Pam},
  {title:titles[6],data:s4Sgd,ticks:yTicksS4Sgd},{title:titles[7],data:s4Pam,ticks:yTicksS4Pam},
  {title:titles[8],data:s5Sgd,ticks:yTicksS5Sgd},{title:titles[9],data:s5Pam,ticks:yTicksS5Pam}];

// ---- layout / style ----
const colX=[71.7,860.7], axW=718.5, axH=98.5, top0=44.5, rowStep=196.3;
const C0="#1f77b4", C3="#d62728";
const tickFont=16.67, titleFont=22.2, labelFont=19.44;
const svg=d3.select("#c");

function tickFmt(ticks){
  const dec=ticks.some(t=>!Number.isInteger(t));
  return t=>(t<0?"\u2212":"")+(dec?Math.abs(t).toFixed(1):String(Math.abs(t)));
}

panels.forEach((p,k)=>{
  const row=Math.floor(k/2), col=k%2;
  const x0=colX[col], y0=top0+row*rowStep;
  const dense=new Array(latentSize).fill(0);
  for(let j=0;j+1<p.data.length;j+=2) dense[p.data[j]]=p.data[j+1];
  const pts=dense.map((v,i)=>({i,v}));
  const lo=Math.min(0,d3.min(dense)), hi=Math.max(0,d3.max(dense)), m=(hi-lo)*0.05;
  const x=d3.scaleLinear().domain([-(latentSize-1)*0.05,(latentSize-1)*1.05]).range([x0,x0+axW]);
  const y=d3.scaleLinear().domain([lo-m,hi+m]).range([y0+axH,y0]);

  const g=svg.append("g");
  const cid="clip"+k;
  g.append("clipPath").attr("id",cid).append("rect")
    .attr("x",x0).attr("y",y0).attr("width",axW).attr("height",axH);
  const plot=g.append("g").attr("clip-path",`url(#${cid})`);
  plot.append("g").attr("stroke",C0).attr("stroke-width",2.08)
    .selectAll("line").data(pts.filter(d=>d.v!==0)).join("line")
    .attr("x1",d=>x(d.i)).attr("x2",d=>x(d.i))
    .attr("y1",y(0)).attr("y2",d=>y(d.v));
  plot.append("g").attr("fill",C0).attr("stroke",C0).attr("stroke-width",1.39)
    .selectAll("circle").data(pts).join("circle")
    .attr("cx",d=>x(d.i)).attr("cy",d=>y(d.v)).attr("r",4.17);
  plot.append("line").attr("x1",x(0)).attr("x2",x(latentSize-1))
    .attr("y1",y(0)).attr("y2",y(0)).attr("stroke",C3).attr("stroke-width",2.08);

  const xa=g.append("g").attr("transform",`translate(0,${y0+axH})`)
    .call(d3.axisBottom(x).tickValues(xTicks).tickSize(4.86).tickPadding(4.86).tickFormat(d3.format("d")));
  const ya=g.append("g").attr("transform",`translate(${x0},0)`)
    .call(d3.axisLeft(y).tickValues(p.ticks).tickSize(4.86).tickPadding(4.86).tickFormat(tickFmt(p.ticks)));
  [xa,ya].forEach(a=>{
    a.select(".domain").remove();
    a.selectAll(".tick line").attr("stroke","#000").attr("stroke-width",1.11);
    a.selectAll(".tick text").attr("fill","#000").style("font-size",tickFont+"px").style("font-family","DejaVu Sans");
  });
  xa.selectAll(".tick text").attr("dy","0.755em");
  ya.selectAll(".tick text").attr("dy","0.4em");
  g.append("rect").attr("x",x0).attr("y",y0).attr("width",axW).attr("height",axH)
    .attr("fill","none").attr("stroke","#000").attr("stroke-width",1.11);
  g.append("text").attr("x",x0+axW/2).attr("y",y0-7).attr("text-anchor","middle")
    .style("font-size",titleFont+"px").style("font-family","DejaVu Sans").text(p.title);
  g.append("text").attr("x",x0+axW/2).attr("y",y0+axH+46.4).attr("text-anchor","middle")
    .style("font-size",labelFont+"px").style("font-family","DejaVu Sans").text(activeLabel);
});
</script></body></html>
